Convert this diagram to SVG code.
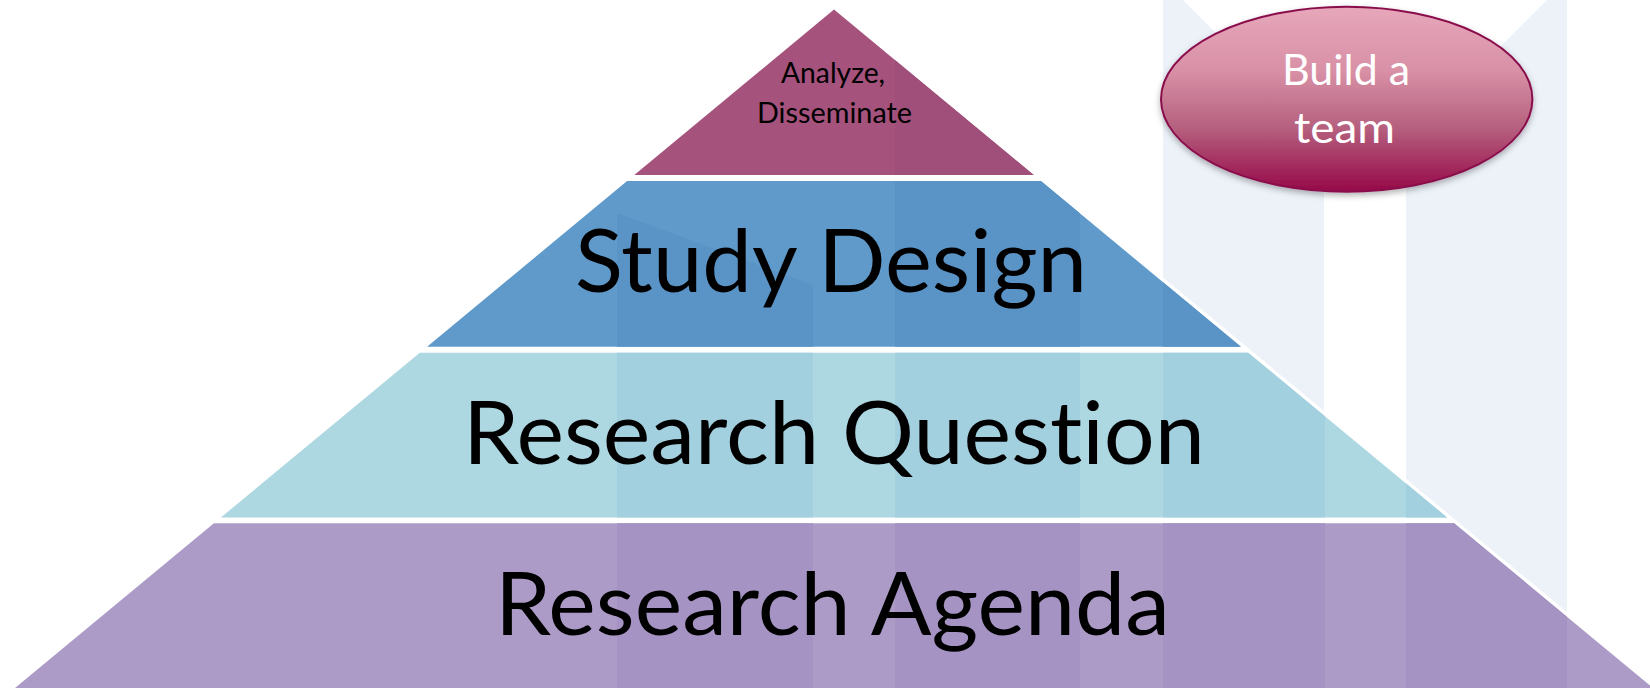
<svg xmlns="http://www.w3.org/2000/svg" xmlns:xlink="http://www.w3.org/1999/xlink" width="1650" height="690" viewBox="0 0 1650 690">
<style>
.lbl{font-family:Lato,"Open Sans","Liberation Sans",sans-serif;fill:#000;text-anchor:middle;font-variant-ligatures:none;font-feature-settings:"liga" 0,"clig" 0}
.big{font-size:88px}
.small{font-size:29px}
.team{font-family:Lato,"Open Sans","Liberation Sans",sans-serif;fill:#fff;text-anchor:middle;font-size:42px;font-variant-ligatures:none}
</style>
<defs>
<linearGradient id="pink" x1="0" y1="0" x2="0" y2="1">
<stop offset="0" stop-color="#E7A7BA"/>
<stop offset="0.35" stop-color="#D890A6"/>
<stop offset="0.65" stop-color="#B6617F"/>
<stop offset="1" stop-color="#960948"/>
</linearGradient>
<filter id="sh" x="-10%" y="-10%" width="120%" height="130%">
<feDropShadow dx="0" dy="3" stdDeviation="3" flood-color="#000" flood-opacity="0.3"/>
</filter>
<g id="bands">
<polygon points="617,213 813,285 813,690 617,690"/>
<rect x="895" y="0" width="185" height="690"/>
<rect x="1163" y="0" width="162" height="690"/>
<rect x="1406" y="0" width="161" height="690"/>
</g>
<clipPath id="c1"><polygon points="834,9.6 1033.7,175 634.3,175"/></clipPath>
<clipPath id="c2"><polygon points="627.1,181 1040.9,181 1240.9,346.7 427.1,346.7"/></clipPath>
<clipPath id="c3"><polygon points="419.8,352.7 1248.2,352.7 1447.1,517.5 220.9,517.5"/></clipPath>
<clipPath id="c4"><polygon points="213.9,523.3 1454.1,523.3 1653,688 15,688"/></clipPath>
</defs>
<rect width="1650" height="690" fill="#fff"/>
<g id="background">
<polygon fill="#EDF2F9" points="1163,0 1183,0 1324,141 1324,690 1163,690"/>
<polygon fill="#EDF2F9" points="1406,141 1547,0 1567,0 1567,690 1406,690"/>
<polygon fill="#fff" stroke="#fff" stroke-width="7" stroke-linejoin="miter" points="834,9.6 1653,688 15,688"/>
</g>
<g id="tier-analyze">
<polygon fill="#A5527D" points="834,9.6 1033.7,175 634.3,175"/>
<g clip-path="url(#c1)"><use xlink:href="#bands" fill="#A04E7A"/></g>
<text class="lbl small" x="833" y="83" textLength="104" lengthAdjust="spacingAndGlyphs">Analyze,</text>
<text class="lbl small" x="834.5" y="123" textLength="155" lengthAdjust="spacingAndGlyphs">Disseminate</text>
</g>
<g id="tier-study-design">
<polygon fill="#5F9ACB" points="627.1,181 1040.9,181 1240.9,346.7 427.1,346.7"/>
<g clip-path="url(#c2)"><use xlink:href="#bands" fill="#5A94C7"/></g>
<text class="lbl big" x="831" y="291.5" textLength="512" lengthAdjust="spacingAndGlyphs">Study Design</text>
</g>
<g id="tier-research-question">
<polygon fill="#AED8E1" points="419.8,352.7 1248.2,352.7 1447.1,517.5 220.9,517.5"/>
<g clip-path="url(#c3)"><use xlink:href="#bands" fill="#A3D0DF"/></g>
<text class="lbl big" x="834" y="464" textLength="742" lengthAdjust="spacingAndGlyphs">Research Question</text>
</g>
<g id="tier-research-agenda">
<polygon fill="#AD9BC7" points="213.9,523.3 1454.1,523.3 1653,688 15,688"/>
<g clip-path="url(#c4)"><use xlink:href="#bands" fill="#A594C3"/></g>
<text class="lbl big" x="832.5" y="635" textLength="675" lengthAdjust="spacingAndGlyphs">Research Agenda</text>
</g>
<g id="build-a-team">
<ellipse cx="1346.7" cy="99.2" rx="185.7" ry="92.5" fill="url(#pink)" stroke="#8A0E4C" stroke-width="2" filter="url(#sh)"/>
<text class="team" x="1346" y="85" textLength="128" lengthAdjust="spacingAndGlyphs">Build a</text>
<text class="team" x="1344.5" y="143" textLength="101" lengthAdjust="spacingAndGlyphs">team</text>
</g>
<g id="connectors"/>
</svg>
